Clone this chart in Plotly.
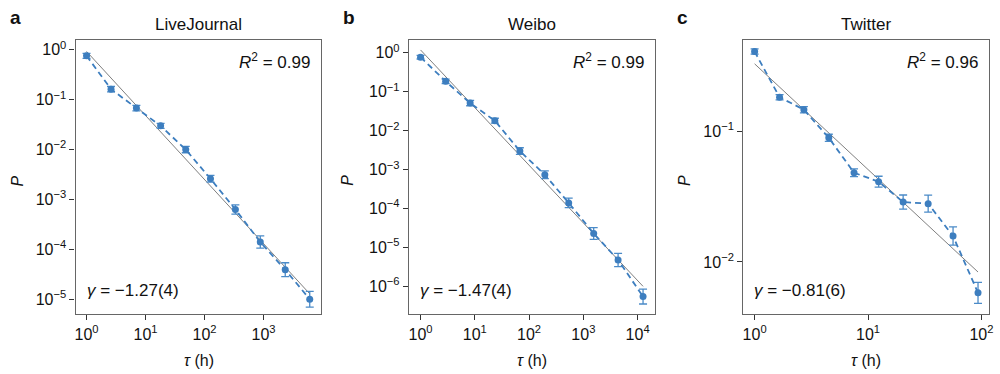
import plotly.graph_objects as go

# ---------------- data ----------------
titles = ["LiveJournal", "Weibo", "Twitter"]
letters = ["a", "b", "c"]
r2_labels = ["0.99", "0.99", "0.96"]
gamma_labels = ["−1.27(4)", "−1.47(4)", "−0.81(6)"]

tau_a = [1.0, 2.6, 7.0, 18, 48, 126, 333, 880, 2330, 6060]
p_a = [0.76, 0.163, 0.068, 0.030, 0.0100, 0.0026, 6.3e-4, 1.4e-4, 3.9e-5, 1.0e-5]
logerr_a = [0.05, 0.053, 0.056, 0.05, 0.063, 0.067, 0.093, 0.123, 0.14, 0.157]

tau_b = [1.0, 2.9, 8.2, 23.4, 67.6, 195, 537, 1550, 4365, 12590]
p_b = [0.77, 0.185, 0.051, 0.018, 0.0030, 7.4e-4, 1.4e-4, 2.3e-5, 4.8e-6, 5.5e-7]
logerr_b = [0.047, 0.056, 0.068, 0.064, 0.085, 0.10, 0.12, 0.15, 0.17, 0.19]

tau_c = [1.0, 1.66, 2.72, 4.51, 7.53, 12.4, 20.4, 33.9, 56.2, 93.3]
p_c = [0.41, 0.183, 0.147, 0.0895, 0.0483, 0.0412, 0.0288, 0.028, 0.0158, 0.0058]
logerr_c = [0.02, 0.02, 0.024, 0.027, 0.03, 0.042, 0.054, 0.065, 0.07, 0.08]

# power-law fits: P = A * tau^gamma
fit_gamma = [-1.285, -1.48, -0.81]
fit_prefactor = [0.93, 1.18, 0.33]

x_ranges = [[-0.185, 3.98], [-0.214, 4.315], [-0.10, 2.067]]
y_ranges = [[-5.3, 0.2], [-6.71, 0.33], [-2.40, -0.298]]
x_tickvals = [[1, 10, 100, 1000], [1, 10, 100, 1000, 10000], [1, 10, 100]]
x_ticktext = [["10<sup>0</sup>", "10<sup>1</sup>", "10<sup>2</sup>", "10<sup>3</sup>"],
              ["10<sup>0</sup>", "10<sup>1</sup>", "10<sup>2</sup>", "10<sup>3</sup>", "10<sup>4</sup>"],
              ["10<sup>0</sup>", "10<sup>1</sup>", "10<sup>2</sup>"]]
y_tickvals = [[1, 0.1, 0.01, 1e-3, 1e-4, 1e-5],
              [1, 0.1, 0.01, 1e-3, 1e-4, 1e-5, 1e-6],
              [0.1, 0.01]]
y_ticktext = [["10<sup>0</sup>", "10<sup>−1</sup>", "10<sup>−2</sup>", "10<sup>−3</sup>", "10<sup>−4</sup>", "10<sup>−5</sup>"],
              ["10<sup>0</sup>", "10<sup>−1</sup>", "10<sup>−2</sup>", "10<sup>−3</sup>", "10<sup>−4</sup>", "10<sup>−5</sup>", "10<sup>−6</sup>"],
              ["10<sup>−1</sup>", "10<sup>−2</sup>"]]

# ---------------- layout geometry ----------------
W, H = 1000, 374
x_domains = [[75 / W, 322 / W], [410 / W, 657 / W], [746 / W, 993 / W]]
y_domain = [1 - 314 / H, 1 - 39 / H]

BLUE = "#3d7ebf"
EBLUE = "#4b8bc8"
GREY = "#7f7f7f"
FONT = "Liberation Sans, Arial, Helvetica, sans-serif"

fig = go.Figure()
taus = [tau_a, tau_b, tau_c]
ps = [p_a, p_b, p_c]
logerrs = [logerr_a, logerr_b, logerr_c]

for i in range(3):
    xa = "x" if i == 0 else f"x{i + 1}"
    ya = "y" if i == 0 else f"y{i + 1}"
    t, p, le = taus[i], ps[i], logerrs[i]
    plus = [v * (10 ** d - 1) for v, d in zip(p, le)]
    minus = [v * (1 - 10 ** (-d)) for v, d in zip(p, le)]
    fx = [t[0], t[-1]]
    fy = [fit_prefactor[i] * xv ** fit_gamma[i] for xv in fx]
    fig.add_trace(go.Scatter(x=fx, y=fy, mode="lines", xaxis=xa, yaxis=ya,
                             line=dict(color=GREY, width=1), showlegend=False,
                             hoverinfo="skip"))
    fig.add_trace(go.Scatter(x=t, y=p, mode="lines+markers", xaxis=xa, yaxis=ya,
                             line=dict(color=BLUE, width=1.8, dash="6px,4px"),
                             marker=dict(color=BLUE, size=7),
                             error_y=dict(type="data", symmetric=False, array=plus,
                                          arrayminus=minus, color=EBLUE,
                                          thickness=1.3, width=4),
                             showlegend=False))

layout = dict(width=W, height=H, margin=dict(l=0, r=0, t=0, b=0),
              paper_bgcolor="white", plot_bgcolor="white",
              font=dict(family=FONT, size=16, color="#111"))

annotations = []
for i in range(3):
    xk = "xaxis" if i == 0 else f"xaxis{i + 1}"
    yk = "yaxis" if i == 0 else f"yaxis{i + 1}"
    xa = "x" if i == 0 else f"x{i + 1}"
    axis_common = dict(showline=True, linecolor="#666", linewidth=1.3, mirror=True,
                       ticks="outside", ticklen=5, tickwidth=1.2, tickcolor="#333",
                       showgrid=False, zeroline=False,
                       tickfont=dict(family=FONT, size=16, color="#111"))
    layout[xk] = dict(type="log", domain=x_domains[i], range=x_ranges[i],
                      anchor="y" if i == 0 else f"y{i + 1}",
                      tickvals=x_tickvals[i], ticktext=x_ticktext[i], **axis_common)
    layout[yk] = dict(type="log", domain=y_domain, range=y_ranges[i],
                      anchor=xa,
                      tickvals=y_tickvals[i], ticktext=y_ticktext[i], **axis_common)
    x0, x1 = x_domains[i]
    cx = (x0 + x1) / 2
    annotations.append(dict(text=titles[i], x=cx, y=1 - 24 / H, xref="paper", yref="paper",
                            showarrow=False, font=dict(size=17, family=FONT),
                            xanchor="center", yanchor="middle"))
    annotations.append(dict(text=f"<b>{letters[i]}</b>", x=[15, 350, 685][i] / W,
                            y=1 - 17 / H, xref="paper", yref="paper", showarrow=False,
                            font=dict(size=19, family=FONT), xanchor="center",
                            yanchor="middle"))
    annotations.append(dict(text=f"<i>R</i><sup>2</sup> = {r2_labels[i]}",
                            x=x1 - 9 / W, y=1 - 60 / H, xref="paper", yref="paper",
                            showarrow=False, font=dict(size=17, family=FONT),
                            xanchor="right", yanchor="middle"))
    annotations.append(dict(text=f"<i>γ</i> = {gamma_labels[i]}",
                            x=x0 + 9 / W, y=1 - 290 / H, xref="paper", yref="paper",
                            showarrow=False, font=dict(size=17, family=FONT),
                            xanchor="left", yanchor="middle"))
    annotations.append(dict(text="<i>τ</i> (h)", x=cx, y=1 - 360 / H, xref="paper",
                            yref="paper", showarrow=False, font=dict(size=16, family=FONT),
                            xanchor="center", yanchor="middle"))
    annotations.append(dict(text="<i>P</i>", x=[17, 348, 687][i] / W, y=1 - 180 / H,
                            xref="paper", yref="paper", showarrow=False, textangle=-90,
                            font=dict(size=16, family=FONT), xanchor="center",
                            yanchor="middle"))

layout["annotations"] = annotations
fig.update_layout(**layout)
fig.write_html("out.html", config={"displayModeBar": False},
               post_script="document.body.style.margin='0';document.body.style.overflow='hidden';")
